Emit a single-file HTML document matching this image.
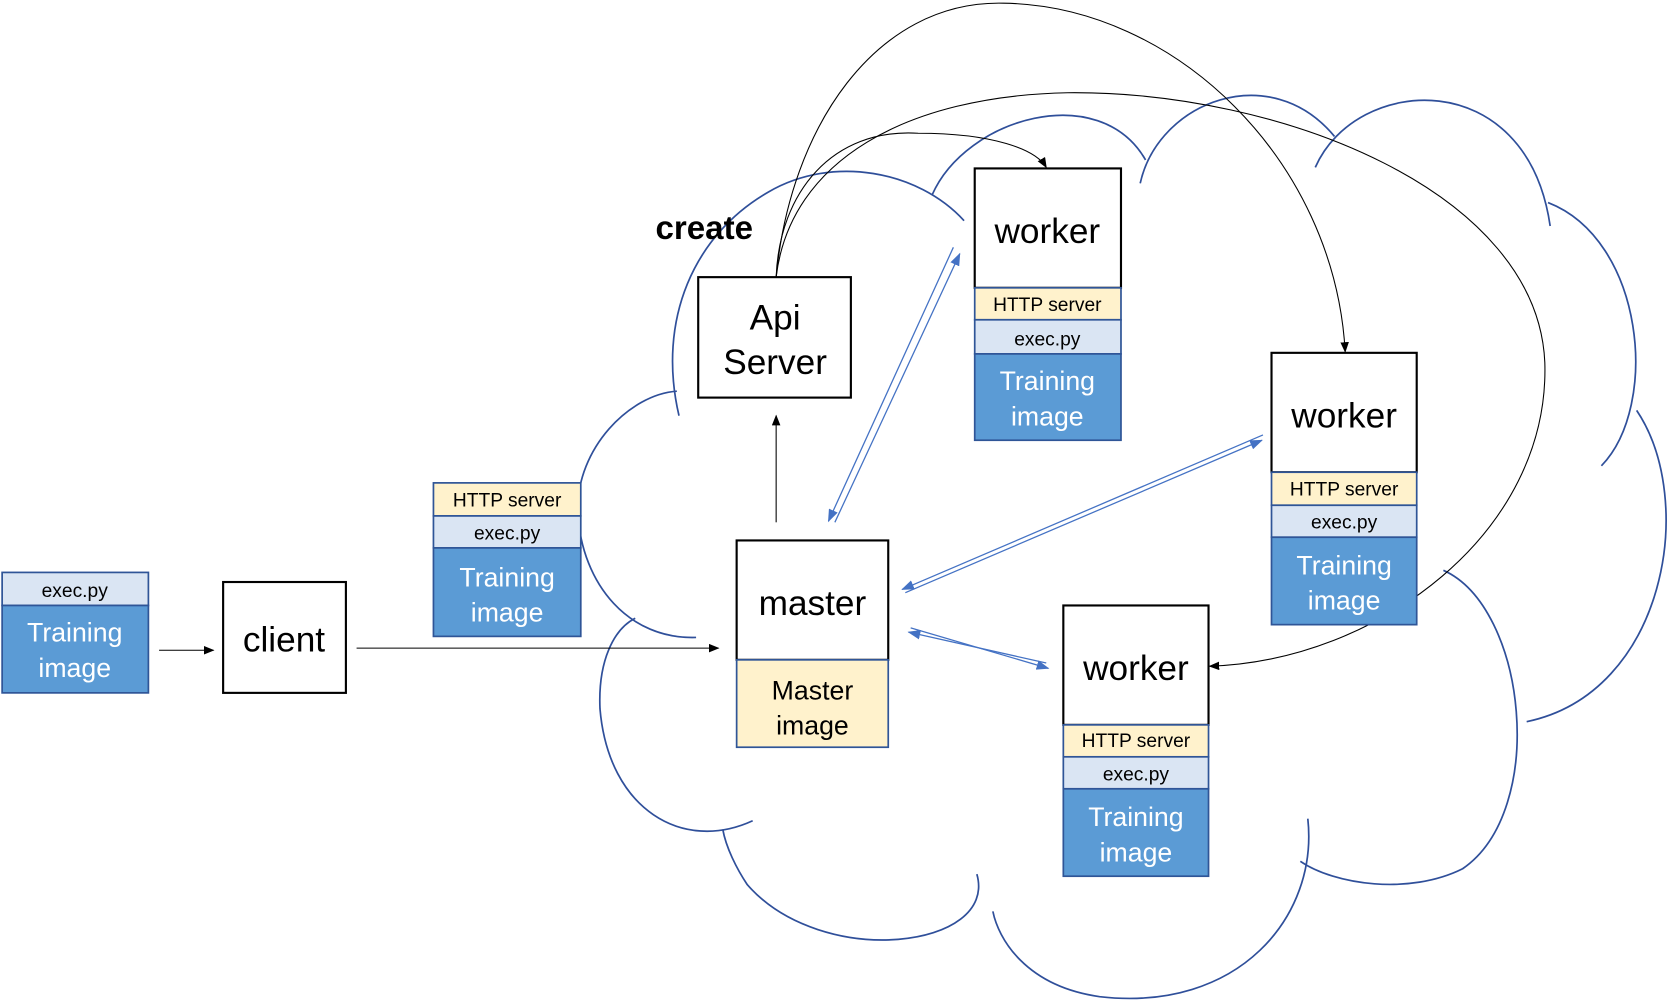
<!DOCTYPE html>
<html><head><meta charset="utf-8"><style>
html,body{margin:0;padding:0;background:#fff}
svg{display:block}
text{font-family:"Liberation Sans","DejaVu Sans",sans-serif}
</style></head><body>
<svg width="1674" height="1002" viewBox="0 0 1568 940" preserveAspectRatio="none" xmlns="http://www.w3.org/2000/svg">
<defs>
<marker id="ak" markerWidth="10" markerHeight="8" refX="9" refY="4" orient="auto" markerUnits="userSpaceOnUse"><path d="M0,0 L10,4 L0,8z" fill="#000"/></marker>
<marker id="ab" markerWidth="12" markerHeight="9" refX="11" refY="4.5" orient="auto" markerUnits="userSpaceOnUse"><path d="M0,0 L12,4.5 L0,9z" fill="#4472c4"/></marker>
</defs>
<g fill="none" stroke="#2f4f9a" stroke-width="1.6">
<path d="M873,183 C905,110 1030,75 1073,150"/>
<path d="M1068,172 C1085,95 1190,55 1250,128"/>
<path d="M1232,157 C1270,70 1430,60 1452,212"/>
<path d="M1450,190 C1540,225 1555,380 1500,437"/>
<path d="M1533,385 C1590,470 1560,650 1430,677"/>
<path d="M1352,535 C1430,570 1450,760 1370,815 C1320,840 1250,830 1218,808"/>
<path d="M1225,768 C1235,860 1160,950 1030,935 C960,925 935,880 930,855"/>
<path d="M915,820 C935,890 770,910 700,830 C690,815 680,795 677,778"/>
<path d="M705,770 C640,800 570,760 562,665 C560,620 575,590 595,580"/>
<path d="M652,598 C590,600 545,550 541,480 C540,420 590,370 634,367"/>
<path d="M636,390 C615,300 650,220 720,180 C780,145 860,160 903,207"/>
</g>
<text x="614" y="224" font-size="31" font-weight="bold" fill="#000">create</text>
<g fill="none" stroke="#000" stroke-width="1">
<path d="M727,260 C730,180 780,120 860,125 C930,125 970,140 980,157" marker-end="url(#ak)"/>
<path d="M727,260 C740,120 820,0 940,3 C1100,5 1250,150 1260,330" marker-end="url(#ak)"/>
<path d="M727,260 C740,150 850,90 1000,87 C1200,85 1440,180 1447,340 C1452,500 1290,620 1133,625" marker-end="url(#ak)"/>
<path d="M727,490 L727,390" marker-end="url(#ak)"/>
<path d="M334,608 L673,608" marker-end="url(#ak)"/>
<path d="M149,610 L200,610" marker-end="url(#ak)"/>
</g>
<g fill="none" stroke="#4472c4" stroke-width="1.2">
<path d="M782,490 L899,238" marker-end="url(#ab)"/>
<path d="M893,232 L776,489" marker-end="url(#ab)"/>
<path d="M848,556 L1182,413" marker-end="url(#ab)"/>
<path d="M1183,408 L845,553" marker-end="url(#ab)"/>
<path d="M853,589 L982,627" marker-end="url(#ab)"/>
<path d="M980,622 L851,593" marker-end="url(#ab)"/>
</g>
<g stroke="#000" stroke-width="2" fill="#fff">
<rect x="654" y="260" width="143" height="113"/>
<rect x="209" y="546" width="115" height="104"/>
<rect x="690" y="507" width="142" height="112"/>
<rect x="913" y="158" width="137" height="112"/>
<rect x="1191" y="331" width="136" height="112"/>
<rect x="996" y="568" width="136" height="112"/>
</g>
<g stroke="#2f5597" stroke-width="1.6">
<rect x="690" y="619" width="142" height="82" fill="#fff2cc"/>
<rect x="913" y="270" width="137" height="30" fill="#fff2cc"/><rect x="913" y="300" width="137" height="32" fill="#dae5f3"/><rect x="913" y="332" width="137" height="81" fill="#5b9bd5"/>
<rect x="1191" y="443" width="136" height="31" fill="#fff2cc"/><rect x="1191" y="474" width="136" height="30" fill="#dae5f3"/><rect x="1191" y="504" width="136" height="82" fill="#5b9bd5"/>
<rect x="996" y="680" width="136" height="30" fill="#fff2cc"/><rect x="996" y="710" width="136" height="30" fill="#dae5f3"/><rect x="996" y="740" width="136" height="82" fill="#5b9bd5"/>
<rect x="406" y="453" width="138" height="31" fill="#fff2cc"/><rect x="406" y="484" width="138" height="30" fill="#dae5f3"/><rect x="406" y="514" width="138" height="83" fill="#5b9bd5"/>
<rect x="2" y="537" width="137" height="31" fill="#dae5f3"/><rect x="2" y="568" width="137" height="82" fill="#5b9bd5"/>
</g>
<g text-anchor="middle" fill="#000">
<text x="726" y="309" font-size="33">Api</text><text x="726" y="351" font-size="33">Server</text>
<text x="266" y="611" font-size="33">client</text>
<text x="761" y="577" font-size="33">master</text>
<text x="761" y="656" font-size="25">Master</text><text x="761" y="689" font-size="25">image</text>
<text x="981" y="228" font-size="33">worker</text>
<text x="1259" y="401" font-size="33">worker</text>
<text x="1064" y="638" font-size="33">worker</text>
<g font-size="18">
<text x="981" y="292">HTTP server</text><text x="981" y="324">exec.py</text>
<text x="1259" y="465">HTTP server</text><text x="1259" y="496">exec.py</text>
<text x="1064" y="701">HTTP server</text><text x="1064" y="732">exec.py</text>
<text x="475" y="475">HTTP server</text><text x="475" y="506">exec.py</text>
<text x="70" y="560">exec.py</text>
</g>
<g font-size="25" fill="#fff">
<text x="981" y="366">Training</text><text x="981" y="399">image</text>
<text x="1259" y="539">Training</text><text x="1259" y="572">image</text>
<text x="1064" y="775">Training</text><text x="1064" y="808">image</text>
<text x="475" y="550">Training</text><text x="475" y="583">image</text>
<text x="70" y="602">Training</text><text x="70" y="635">image</text>
</g>
</g>
</svg>
</body></html>
